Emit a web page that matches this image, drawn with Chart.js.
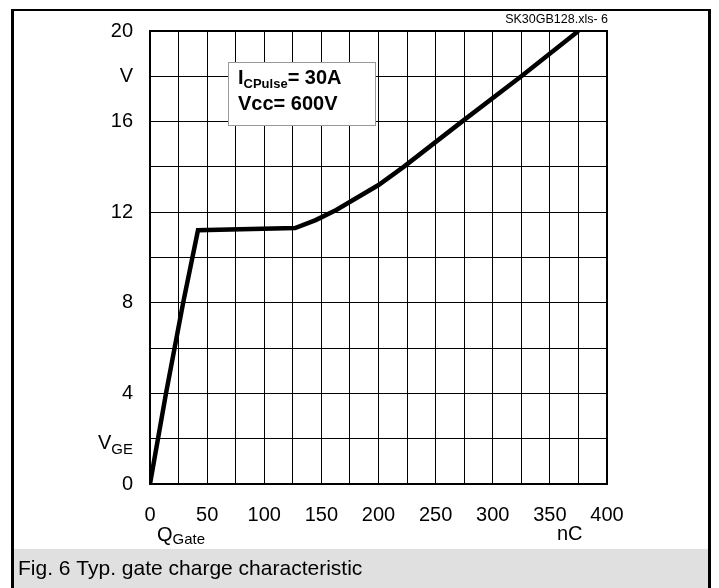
<!DOCTYPE html>
<html>
<head>
<meta charset="utf-8">
<script src="https://cdn.jsdelivr.net/npm/chart.js@4"></script>
<style>
  html, body { margin: 0; padding: 0; background: #fff; }
  canvas { display: block; }
</style>
</head>
<body>
<canvas id="gate-chart" width="719" height="588"></canvas>
<script>
// gate charge curve
const qGate = [0, 14, 29, 42, 127, 145, 163, 200, 222, 273, 325, 375];
const vGE = [0, 4, 8, 11.2, 11.3, 11.65, 12.1, 13.2, 14, 16, 18, 20];

// tick labels (V_GE at 2 is drawn by hand because of the subscript)
const yTickLabels = { 0: '0', 4: '4', 8: '8', 12: '12', 16: '16', 18: 'V', 20: '20' };
const xTickLabels = { 0: '0', 50: '50', 100: '100', 150: '150', 200: '200', 250: '250', 300: '300', 350: '350', 400: '400' };

const FONT = '"Liberation Sans", Arial, sans-serif';

const points = qGate.map((q, i) => ({ x: q, y: vGE[i] }));

const sheet = {
  id: 'sheet',
  beforeDraw(chart) {
    const c = chart.ctx;
    c.save();
    c.fillStyle = '#fff';
    c.fillRect(0, 0, chart.width, chart.height);
    // caption band
    c.fillStyle = '#e0e0e0';
    c.fillRect(14, 549, 694, 39);
    // outer frame
    c.fillStyle = '#000';
    c.fillRect(11, 9, 3, 579);
    c.fillRect(11, 9, 700, 2);
    c.fillRect(708, 9, 3, 579);
    c.restore();
  },
  afterDraw(chart) {
    const c = chart.ctx;
    const a = chart.chartArea;
    c.save();
    // plot frame
    c.strokeStyle = '#000';
    c.lineWidth = 2;
    c.strokeRect(a.left, a.top, a.right - a.left, a.bottom - a.top);

    // condition box
    c.fillStyle = '#fff';
    c.fillRect(228, 62, 148, 64);
    c.strokeStyle = '#999';
    c.lineWidth = 1;
    c.strokeRect(228.5, 62.5, 147, 63);
    c.fillStyle = '#000';
    c.textBaseline = 'alphabetic';
    c.textAlign = 'left';
    c.font = 'bold 20px ' + FONT;
    c.fillText('I', 238, 84);
    let x = 238 + c.measureText('I').width;
    c.font = 'bold 13px ' + FONT;
    c.fillText('CPulse', x, 88);
    x += c.measureText('CPulse').width;
    c.font = 'bold 20px ' + FONT;
    c.fillText('= 30A', x, 84);
    c.fillText('Vcc= 600V', 238, 110);

    // file tag
    c.font = '12.5px ' + FONT;
    c.textAlign = 'right';
    c.fillText('SK30GB128.xls- 6', 608, 23);

    // V_GE on the y axis
    const yv = chart.scales.y.getPixelForValue(2);
    c.font = '15px ' + FONT;
    const geW = c.measureText('GE').width;
    c.fillText('GE', 133, yv + 15.5);
    c.font = '20px ' + FONT;
    c.fillText('V', 133 - geW, yv + 10.5);

    // Q_Gate and nC on the x axis
    c.textAlign = 'left';
    c.font = '20px ' + FONT;
    c.fillText('Q', 157, 541);
    const qW = c.measureText('Q').width;
    c.font = '15px ' + FONT;
    c.fillText('Gate', 157 + qW, 544);
    c.font = '20px ' + FONT;
    c.fillText('nC', 557, 540);

    // caption
    c.font = '21px ' + FONT;
    c.fillText('Fig. 6 Typ. gate charge characteristic', 18, 575);
    c.restore();
  }
};

new Chart(document.getElementById('gate-chart'), {
  type: 'scatter',
  data: {
    datasets: [{
      data: points,
      showLine: true,
      borderColor: '#000',
      borderWidth: 4.5,
      pointRadius: 0,
      tension: 0
    }]
  },
  options: {
    responsive: false,
    devicePixelRatio: 1,
    animation: false,
    layout: { padding: { top: 31, right: 112, left: 0, bottom: 0 } },
    plugins: { legend: { display: false }, tooltip: { enabled: false } },
    scales: {
      x: {
        type: 'linear',
        min: 0,
        max: 400,
        afterFit(scale) { scale.height = 104; },
        border: { color: '#000', width: 2 },
        grid: { color: '#000', lineWidth: 1, drawTicks: false },
        ticks: {
          stepSize: 25,
          autoSkip: false,
          maxRotation: 0,
          padding: 19,
          color: '#000',
          font: { family: FONT, size: 20 },
          callback: v => xTickLabels[v] ?? ''
        }
      },
      y: {
        min: 0,
        max: 20,
        afterFit(scale) { scale.width = 150; },
        border: { color: '#000', width: 2 },
        grid: { color: '#000', lineWidth: 1, drawTicks: false },
        ticks: {
          stepSize: 2,
          autoSkip: false,
          padding: 17,
          color: '#000',
          font: { family: FONT, size: 20 },
          callback: v => yTickLabels[v] ?? ''
        }
      }
    }
  },
  plugins: [sheet]
});
</script>
</body>
</html>
